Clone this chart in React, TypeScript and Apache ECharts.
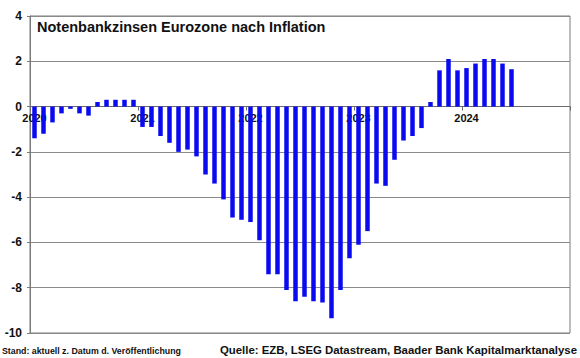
import React, { useEffect, useRef } from "react";
import * as echarts from "echarts";

const years = ["2020", "2021", "2022", "2023", "2024"];
const months = ["01", "02", "03", "04", "05", "06", "07", "08", "09", "10", "11", "12"];
const categories: string[] = years.flatMap((y) => months.map((m) => `${y}-${m}`));

const values2020 = [-1.4, -1.2, -0.7, -0.3, -0.1, -0.3, -0.4, 0.2, 0.3, 0.3, 0.3, 0.3];
const values2021 = [-0.9, -0.9, -1.3, -1.6, -2.0, -1.9, -2.2, -3.0, -3.4, -4.1, -4.9, -5.0];
const values2022 = [-5.1, -5.9, -7.4, -7.4, -8.1, -8.6, -8.4, -8.6, -8.65, -9.35, -8.1, -6.7];
const values2023 = [-6.1, -5.5, -3.4, -3.5, -2.35, -1.5, -1.3, -0.95, 0.2, 1.6, 2.1, 1.6];
const values2024 = [1.7, 1.9, 2.1, 2.1, 1.9, 1.65, null, null, null, null, null, null];

const seriesValues = [...values2020, ...values2021, ...values2022, ...values2023, ...values2024];

const yTicks = { min: -10, max: 4, interval: 2 };

const titleText = "Notenbankzinsen Eurozone nach Inflation";
const standText = "Stand: aktuell z. Datum d. Veröffentlichung";
const sourceText = "Quelle: EZB, LSEG Datastream, Baader Bank Kapitalmarktanalyse";

const FONT = '"Liberation Sans", Arial, sans-serif';

const W = 580;
const H = 358;
const GRID = { left: 30, right: 10, top: 16, bottom: 25 };

export default function App() {
  const ref = useRef<HTMLDivElement>(null);
  useEffect(() => {
    if (!ref.current) return;
    const chart = echarts.init(ref.current, null, { renderer: "svg" });
    const plotH = H - GRID.top - GRID.bottom;
    const zeroOffset = -plotH * (0 - yTicks.min) / (yTicks.max - yTicks.min);
    chart.setOption({
      animation: false,
      backgroundColor: "#ffffff",
      grid: {
        ...GRID,
        containLabel: false,
        show: true,
        borderColor: "#7a7a7a",
        borderWidth: 1,
        backgroundColor: "transparent",
      },
      xAxis: {
        type: "category",
        data: categories,
        boundaryGap: true,
        position: "bottom",
        offset: zeroOffset,
        axisLine: { show: true, onZero: false, lineStyle: { color: "#6a6a6a", width: 1 } },
        axisTick: {
          show: true,
          interval: (i: number) => i % 12 === 0,
          length: 4,
          lineStyle: { color: "#6a6a6a" },
        },
        axisLabel: {
          interval: (i: number) => i % 12 === 0,
          formatter: (v: string) => v.slice(0, 4),
          fontFamily: FONT,
          fontWeight: "bold",
          fontSize: 11,
          color: "#111",
          margin: 6,
        },
        splitLine: { show: false },
      },
      yAxis: {
        type: "value",
        min: yTicks.min,
        max: yTicks.max,
        interval: yTicks.interval,
        axisLine: { show: true, lineStyle: { color: "#7a7a7a" } },
        axisTick: { show: true, length: 3, lineStyle: { color: "#7a7a7a" } },
        axisLabel: {
          fontFamily: FONT,
          fontWeight: "bold",
          fontSize: 12,
          color: "#111",
          margin: 8,
        },
        splitLine: { show: true, lineStyle: { color: "#8a8a8a", width: 1 } },
      },
      series: [
        {
          type: "bar",
          data: seriesValues,
          barWidth: 4.5,
          itemStyle: { color: "#0a0af0" },
        },
      ],
      graphic: [
        {
          type: "text",
          left: 37,
          top: 19,
          style: {
            text: titleText,
            fontFamily: FONT,
            fontWeight: "bold",
            fontSize: 14.5,
            fill: "#111",
          },
        },
        {
          type: "text",
          x: 2,
          y: 351,
          style: {
            text: standText,
            fontFamily: FONT,
            fontWeight: "bold",
            fontSize: 8.8,
            fill: "#111",
            verticalAlign: "middle",
            align: "left",
          },
        },
        {
          type: "text",
          x: 577,
          y: 350,
          style: {
            text: sourceText,
            fontFamily: FONT,
            fontWeight: "bold",
            fontSize: 11.4,
            fill: "#111",
            verticalAlign: "middle",
            align: "right",
          },
        },
      ],
    });
    return () => chart.dispose();
  }, []);
  return <div ref={ref} style={{ width: W, height: H, position: "fixed", left: 0, top: 0 }} />;
}
